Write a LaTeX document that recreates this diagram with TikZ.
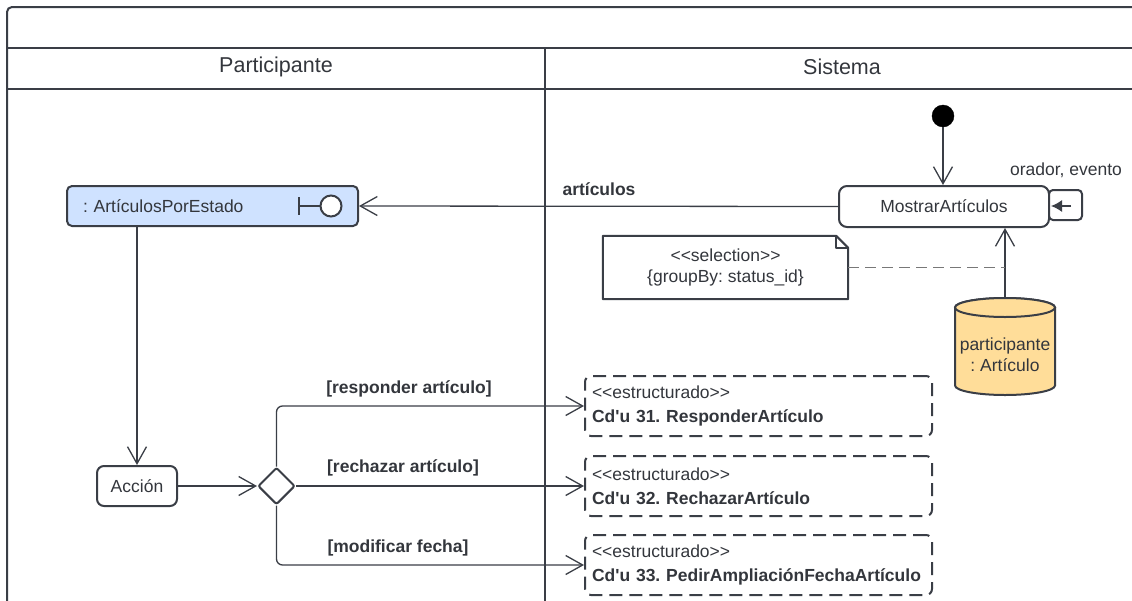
\documentclass[tikz,border=0pt]{standalone}
\usepackage{fontspec}
\setmainfont{Liberation Sans}[Ligatures=TeXOff]
\frenchspacing
\usetikzlibrary{arrows.meta,positioning,shapes.geometric,calc}
\definecolor{ln}{RGB}{58,62,70}
\definecolor{txt}{RGB}{51,54,60}
\definecolor{objblue}{RGB}{207,226,255}
\definecolor{storeor}{RGB}{255,221,153}
\definecolor{mut}{RGB}{120,120,120}
\tikzset{
  every node/.style={font=\fontsize{17.5}{21}\selectfont,text=txt},
  frame/.style={draw=ln,line width=2pt},
  lanehead/.style={font=\fontsize{21.5}{26}\selectfont},
  action/.style={rectangle,rounded corners=7pt,draw=ln,line width=2pt,fill=white,minimum height=40pt,inner sep=0pt},
  objnode/.style={rectangle,rounded corners=5pt,draw=ln,line width=2pt,fill=objblue,minimum height=40pt,inner xsep=16pt,align=left},
  startdot/.style={circle,draw=black,fill=black,minimum size=22pt,inner sep=0pt},
  pinbox/.style={rectangle,rounded corners=4pt,draw=ln,line width=2pt,fill=white,minimum width=33pt,minimum height=30pt,inner sep=0pt},
  pinarrow/.style={draw=ln,line width=1.5pt,-{Latex[length=11pt,width=12pt]}},
  flow/.style={draw=ln,line width=1.3pt,-{Straight Barb[length=17pt,width=19pt]}},
  anchorline/.style={draw=mut,line width=1.6pt,dash pattern=on 11pt off 6pt},
  guard/.style={font=\fontsize{17.5}{21}\selectfont\bfseries},
  notetext/.style={align=center,inner sep=0pt},
  notebox/.style={draw=ln,line width=2pt,line join=round},
  storetext/.style={align=center,inner sep=0pt},
  store/.style={draw=ln,line width=2pt,fill=storeor},
  % dashed call-behaviour boxes
  subact/.style={rectangle,rounded corners=6pt,draw=ln,line width=2pt,dash pattern=on 13pt off 7pt,
    minimum width=347pt,minimum height=60pt,text width=333pt,inner xsep=7pt,align=left,
    font=\fontsize{17.5}{24}\selectfont},
  decision/.style={diamond,aspect=1,draw=ln,line width=2pt,fill=white,minimum width=37pt,minimum height=37pt,inner sep=0pt,rounded corners=2pt},
}

\begin{document}
\begin{tikzpicture}[x=1pt,y=-1pt]
\useasboundingbox (0,0) rectangle (1132,600);
\clip (0,0) rectangle (1132,600);

% --- Swimlane frame ---
\draw[frame,rounded corners=5pt] (7,620) -- (7,7) -- (1139,7) -- (1139,620);
\draw[frame] (7,48) -- (1139,48);
\draw[frame] (7,89) -- (1139,89);
\draw[frame] (545,48) -- (545,620);
\node[lanehead] (laneP) at (276,67) {Participante};
\node[lanehead] (laneS) at (842,67) {Sistema};

% --- Participante lane ---
\node[objnode,text width=259pt,minimum width=291pt] (porestado) at (212.5,206) {: ArtículosPorEstado};
% boundary icon
\draw[ln,line width=2pt] (299,197) -- (299,215);
\draw[ln,line width=2pt] (299,206) -- (320.5,206);
\draw[ln,line width=2pt,fill=white] (331,206) circle[radius=10.5pt];

\node[action,minimum width=80pt] (accion) at (137,486) {Acción};
\node[decision] (decision) at (276.5,486) {};

% --- Sistema lane ---
\node[startdot] (inicio) at (943,116) {};
\node[action,minimum width=210pt,minimum height=41pt,rounded corners=8pt] (mostrar) at (944,206.5) {MostrarArtículos};
\node[pinbox] (pin) at (1065.5,205) {};
\draw[pinarrow] (1071,206) -- (1051,206);
\node (pinlbl) at (1066,170) {orador, evento};

% note with folded corner
\node[notetext,minimum width=245pt,minimum height=63pt] (nota) at (725.5,267.5) {<<selection>>\\\{groupBy: status\_id\}};
\draw[notebox] (nota.north west) -- ([xshift=-12pt]nota.north east) -- ([yshift=-12pt]nota.north east) -- (nota.south east) -- (nota.south west) -- cycle;
\draw[notebox] ([xshift=-12pt]nota.north east) -- ([xshift=-12pt,yshift=-12pt]nota.north east) -- ([yshift=-12pt]nota.north east);

% datastore
\draw[store] (955,307.5) -- (955,385.5) arc[start angle=180,end angle=0,x radius=50,y radius=9.5]
  -- (1055,307.5) arc[start angle=0,end angle=-180,x radius=50,y radius=9.5] -- cycle;
\draw[store] (1005,307.5) ellipse[x radius=50,y radius=9.5];
\node[storetext,minimum width=100pt,minimum height=97pt] (almacen) at (1005,355) {participante\\: Artículo};
\coordinate (almacentop) at (1005,298);

\node[subact] (cu31) at (758.5,406) {<<estructurado>>\\\textbf{Cd'u 31. ResponderArtículo}\\[-4pt]};
\node[subact] (cu32) at (758.5,486) {<<estructurado>>\\\textbf{Cd'u 32. RechazarArtículo}\\[-4pt]};
\node[subact] (cu33) at (758.5,565) {<<estructurado>>\\\textbf{Cd'u 33. PedirAmpliaciónFechaArtículo}\\[-4pt]};

% --- Flows ---
\draw[flow] (inicio) -- (inicio |- mostrar.north);
\draw[flow] (mostrar.west) -- (porestado.east);
\node[guard] (gmostrar) at (599,189) {artículos};
\draw[flow] (almacentop) -- (almacentop |- mostrar.south);
\draw[anchorline] (nota.east) -- (nota.east -| almacentop);

\draw[flow] (accion.north |- porestado.south) -- (accion.north);
\draw[flow] (accion) -- (decision);
\draw[flow,rounded corners=6pt] (decision.north) |- (cu31.west);
\draw[flow] (decision) -- (cu32);
\draw[flow,rounded corners=6pt] (decision.south) |- (cu33.west);
\node[guard] (g31) at (409,389) {[responder artículo]};
\node[guard] (g32) at (403,468) {[rechazar artículo]};
\node[guard] (g33) at (398,548) {[modificar fecha]};
\end{tikzpicture}
\end{document}
